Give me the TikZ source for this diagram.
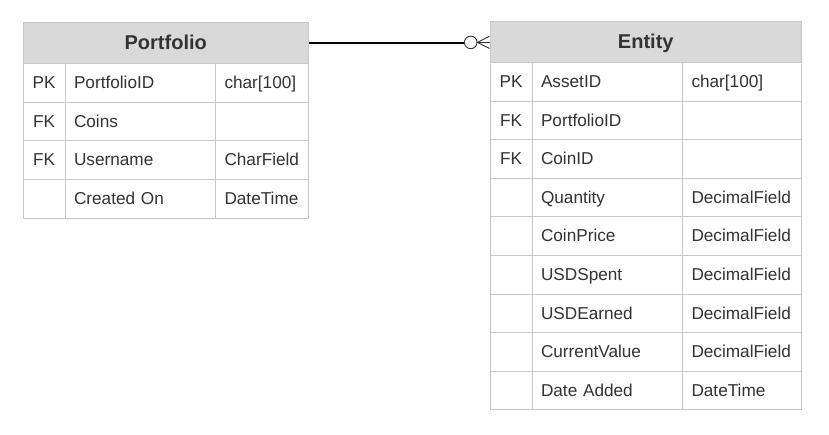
\documentclass[tikz,border=0pt]{standalone}
\usepackage{fontspec}
\setmainfont{Liberation Sans}
\usetikzlibrary{calc}
\definecolor{hdr}{HTML}{D9D9D9}
\definecolor{bord}{HTML}{C8C8C8}
\definecolor{txt}{HTML}{333333}
\tikzset{
  cell/.style={draw=bord, line width=1pt, anchor=north west, inner xsep=9pt, inner ysep=0pt,
    align=left, text=txt, font=\fontsize{17.2}{19}\selectfont, text height=15pt, text depth=3.5pt},
  keycell/.style={cell, align=center, text width=24pt},
  hdrcell/.style={draw=bord, line width=1pt, anchor=north west, inner sep=0pt, fill=hdr,
    text=txt, font=\fontsize{20}{24}\selectfont\bfseries, text height=17.5pt, text depth=4pt},
  conn/.style={draw=black, line width=1.1pt},
  crow/.style={draw=txt, line width=0.9pt}
}
\begin{document}
\begin{tikzpicture}[x=1pt,y=-1pt]
\useasboundingbox[fill=white] (0,0) rectangle (829,435);
% Portfolio
\node[hdrcell, minimum width=285.5pt, minimum height=41pt] (ph) at (22.5,22) {Portfolio};
\foreach \i/\k/\n/\t in {1/PK/PortfolioID/{char[100]}, 2/FK/Coins/{}, 3/FK/Username/CharField, 4/{}/Created On/DateTime}{
  \pgfmathsetmacro\yy{63+(\i-1)*38.7}
  \node[keycell, minimum height=38.7pt] (pk\i) at (22.5,\yy) {\k};
  \node[cell, text width=132.5pt, minimum height=38.7pt] (pn\i) at (64.5,\yy) {\n};
  \node[cell, text width=75pt, minimum height=38.7pt] (pt\i) at (215,\yy) {\t};
}
% Entity
\node[hdrcell, minimum width=311.5pt, minimum height=41pt] (eh) at (489.5,21) {Entity};
\foreach \i/\k/\n/\t in {1/PK/AssetID/{char[100]}, 2/FK/PortfolioID/{}, 3/FK/CoinID/{},
  4/{}/Quantity/DecimalField, 5/{}/CoinPrice/DecimalField, 6/{}/USDSpent/DecimalField,
  7/{}/USDEarned/DecimalField, 8/{}/CurrentValue/DecimalField, 9/{}/Date Added/DateTime}{
  \pgfmathsetmacro\yy{62+(\i-1)*38.6}
  \node[keycell, minimum height=38.6pt] (ek\i) at (489.5,\yy) {\k};
  \node[cell, text width=132.5pt, minimum height=38.6pt] (en\i) at (531.5,\yy) {\n};
  \node[cell, text width=101pt, minimum height=38.6pt] (et\i) at (682,\yy) {\t};
}
% connector
\node[circle, draw=txt, line width=0.9pt, minimum size=12.6pt, inner sep=0pt, fill=white] (o) at (470.7,42.4) {};
\coordinate (ft) at (489.5,36.3);
\coordinate (fm) at (489.5,42.4);
\coordinate (fb) at (489.5,48.5);
\draw[conn] (ph.east) -- (ph.east -| o.west);
\draw[crow] (o.east) -- (ft);
\draw[crow] (o.east) -- (fm);
\draw[crow] (o.east) -- (fb);
\end{tikzpicture}
\end{document}
